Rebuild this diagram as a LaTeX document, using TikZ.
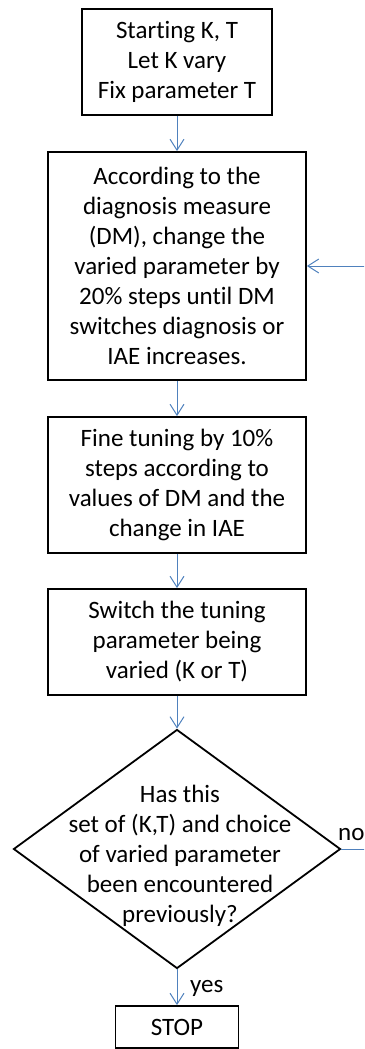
\documentclass[tikz,border=0pt]{standalone}
\usepackage{fontspec}
\setmainfont{Carlito}[RawFeature={-liga;-clig}]
\usetikzlibrary{arrows.meta,shapes.geometric}
\definecolor{flowblue}{HTML}{4F81BD}
\begin{document}
\begin{tikzpicture}[x=1pt,y=-1pt,
  every node/.style={font=\fontsize{25}{30}\selectfont, inner sep=0pt},
  stepbox/.style={draw=black, line width=1.8pt, rectangle, align=center},
  decision/.style={draw=black, line width=1.8pt, diamond},
  flow/.style={draw=flowblue, line width=1pt, -{Straight Barb[length=11pt,width=14pt]}},
  lbl/.style={anchor=base west}]
\useasboundingbox (0,0) rectangle (364,1049);
\clip (0,0) rectangle (364,1049);

\node[stepbox, minimum width=190, minimum height=106] (start) at (177,62)
  {Starting K, T\\Let K vary\\Fix parameter T};
\node[stepbox, minimum width=258, minimum height=228] (coarse) at (177,266)
  {According to the\\diagnosis measure\\(DM), change the\\varied parameter by\\20\% steps until DM\\switches diagnosis or\\IAE increases.};
\node[stepbox, minimum width=258, minimum height=136] (fine) at (177,485)
  {Fine tuning by 10\%\\steps according to\\values of DM and the\\change in IAE};
\node[stepbox, minimum width=258, minimum height=106] (switch) at (177,642)
  {Switch the tuning\\parameter being\\varied (K or T)};
\node[decision, minimum width=327, minimum height=239] (check) at (177,849) {};
\node[align=center] (checktext) at (180,856)
  {Has this\\set of (K,T) and choice\\of varied parameter\\been encountered\\previously?};
\node[stepbox, minimum width=123, minimum height=42] (stop) at (177,1027) {STOP};

\draw[flow] (start) -- (coarse);
\draw[flow] (coarse) -- (fine);
\draw[flow] (fine) -- (switch);
\draw[flow] (switch) -- (check);
\draw[flow] (check.south) -- (stop);
\coordinate (loop) at (372,849);
\draw[flow] (check.east) -- (loop) |- (coarse.east);

\node[lbl] (no) at (338,840) {no};
\node[lbl] (yes) at (190,992) {yes};
\end{tikzpicture}
\end{document}
